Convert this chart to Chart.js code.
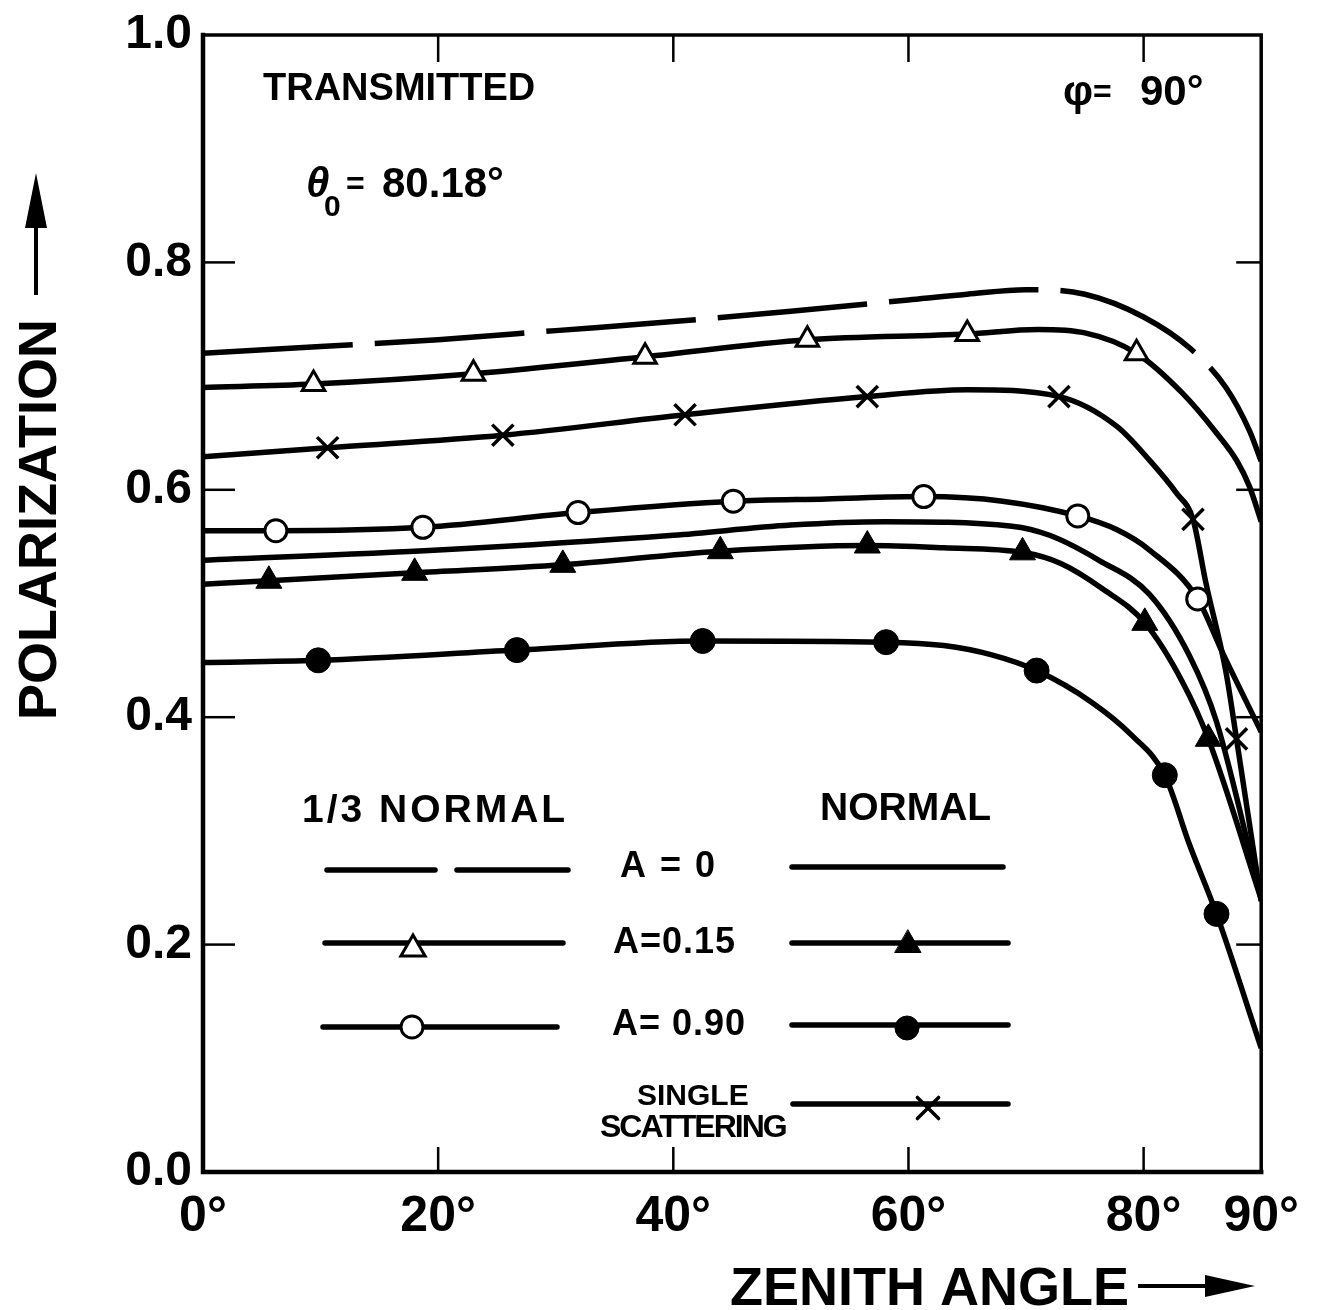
<!DOCTYPE html>
<html>
<head>
<meta charset="utf-8">
<title>Transmitted polarization vs zenith angle</title>
<script src="https://cdn.jsdelivr.net/npm/chart.js@4.4.1/dist/chart.umd.min.js"></script>
<style>
  html, body { margin: 0; padding: 0; background: #fff; }
  canvas { display: block; }
</style>
</head>
<body>
<canvas id="chart" width="1319" height="1310"></canvas>
<script>
// axis ticks
const xTicks = [0, 20, 40, 60, 80, 90];
const yTicks = [0, 0.2, 0.4, 0.6, 0.8, 1.0];

// [zenith angle (deg), polarization]

// 1/3 normal, A = 0 (dashed)
const thirdA0 = [[0,0.720],[10,0.726],[20,0.732],[30,0.740],[40,0.748],[50,0.757],[60,0.767],[65,0.772],[70,0.776],[75,0.772],[80,0.752],[84,0.724],[87,0.690],[89,0.652],[90,0.625]];

// 1/3 normal, A = 0.15 (open triangles)
const thirdA015 = [[0,0.690],[9.4,0.693],[23,0.702],[37.6,0.717],[51.4,0.732],[65,0.737],[71,0.741],[75,0.738],[79.4,0.720],[83.3,0.685],[86.2,0.650],[87.9,0.626],[89,0.603],[90,0.572]];
const thirdA015Marks = [[9.4,0.693],[23,0.702],[37.6,0.717],[51.4,0.732],[65,0.737],[79.4,0.720]];

// 1/3 normal, A = 0.90 (open circles)
const thirdA090 = [[0,0.564],[6.2,0.564],[18.7,0.567],[31.9,0.580],[45.1,0.590],[53,0.592],[61.3,0.594],[68,0.590],[74.4,0.577],[77.7,0.565],[80.5,0.547],[84.6,0.504],[86.7,0.457],[90,0.387]];
const thirdA090Marks = [[6.2,0.564],[18.7,0.567],[31.9,0.580],[45.1,0.590],[61.3,0.594],[74.4,0.577],[84.6,0.504]];

// single scattering (crosses)
const single = [[0,0.629],[10.6,0.637],[25.5,0.648],[41,0.666],[56.5,0.682],[65,0.688],[72.8,0.682],[77.7,0.656],[80.5,0.626],[82.8,0.597],[84.2,0.574],[85.3,0.518],[87,0.440],[87.9,0.381],[90,0.238]];
const singleMarks = [[10.6,0.637],[25.5,0.648],[41,0.666],[56.5,0.682],[72.8,0.682],[84.2,0.574],[87.9,0.381]];

// normal, A = 0 (solid)
const normA0 = [[0,0.538],[20,0.547],[40,0.560],[50,0.569],[58,0.572],[68.8,0.568],[72,0.560],[76.2,0.538],[80.5,0.508],[83.9,0.454],[86.2,0.396],[90,0.240]];

// normal, A = 0.15 (filled triangles)
const normA015 = [[0,0.517],[5.6,0.520],[18,0.527],[30.6,0.534],[44,0.546],[56.5,0.551],[63,0.549],[69.7,0.545],[73,0.535],[76.5,0.513],[80.1,0.483],[83.3,0.431],[85.5,0.381],[90,0.240]];
const normA015Marks = [[5.6,0.520],[18,0.527],[30.6,0.534],[44,0.546],[56.5,0.551],[69.7,0.545],[80.1,0.483],[85.5,0.381]];

// normal, A = 0.90 (filled circles)
const normA090 = [[0,0.448],[9.8,0.450],[26.7,0.459],[42.5,0.467],[58.1,0.466],[63,0.463],[67,0.455],[70.9,0.441],[75.6,0.413],[79,0.384],[81.8,0.349],[83.9,0.288],[86.2,0.227],[90,0.109]];
const normA090Marks = [[9.8,0.450],[26.7,0.459],[42.5,0.467],[58.1,0.466],[70.9,0.441],[81.8,0.349],[86.2,0.227]];

const FONT = '"Liberation Sans", Arial, sans-serif';
const LINE_W = 5.5;

const pts = arr => arr.map(([x, y]) => ({ x, y }));

function curve(data, dash) {
  return {
    data: pts(data),
    borderColor: '#000',
    borderWidth: LINE_W,
    borderDash: dash || [],
    pointRadius: 0,
    cubicInterpolationMode: 'monotone',
    order: 2
  };
}

function marks(data, style, radius, fill, bw) {
  return {
    data: pts(data),
    showLine: false,
    pointStyle: style,
    pointRadius: radius,
    pointBackgroundColor: fill,
    pointBorderColor: '#000',
    pointBorderWidth: bw,
    order: 1
  };
}

function drawText(ctx, str, x, y, size, opts = {}) {
  ctx.font = (opts.style || 'bold') + ' ' + size + 'px ' + FONT;
  ctx.letterSpacing = (opts.spacing || 0) + 'px';
  ctx.textAlign = opts.align || 'left';
  ctx.textBaseline = 'alphabetic';
  ctx.fillText(str, x, y);
  ctx.letterSpacing = '0px';
}

function seg(ctx, x1, y1, x2, y2) {
  ctx.beginPath();
  ctx.moveTo(x1, y1);
  ctx.lineTo(x2, y2);
  ctx.stroke();
}

function mark(ctx, style, radius, fill, bw, x, y) {
  ctx.save();
  ctx.fillStyle = fill || '#000';
  ctx.strokeStyle = '#000';
  ctx.lineWidth = bw;
  Chart.helpers.drawPoint(ctx, { pointStyle: style, radius: radius, rotation: 0, borderWidth: bw }, x, y);
  ctx.restore();
}

// frame, inward ticks, titles, notes and the hand drawn legend
const framePlugin = {
  id: 'frame',
  afterDatasetsDraw(chart) {
    const { ctx, chartArea: a, scales: { x, y } } = chart;
    ctx.save();
    ctx.strokeStyle = '#000';
    ctx.lineCap = 'square';
    ctx.lineWidth = 4.5;
    ctx.beginPath();
    ctx.moveTo(a.left, a.top);
    ctx.lineTo(a.left, a.bottom);
    ctx.lineTo(a.right, a.bottom);
    ctx.stroke();
    ctx.lineWidth = 3.5;
    ctx.beginPath();
    ctx.moveTo(a.left, a.top);
    ctx.lineTo(a.right, a.top);
    ctx.lineTo(a.right, a.bottom);
    ctx.stroke();

    ctx.lineCap = 'butt';
    ctx.lineWidth = 2.5;
    xTicks.slice(1, -1).forEach(v => {
      const px = x.getPixelForValue(v);
      seg(ctx, px, a.bottom, px, a.bottom - 25);
      seg(ctx, px, a.top, px, a.top + 27);
    });
    yTicks.slice(1, -1).forEach(v => {
      const py = y.getPixelForValue(v);
      seg(ctx, a.left, py, a.left + 32, py);
      seg(ctx, a.right, py, a.right - 25, py);
    });
    ctx.restore();
  },
  afterDraw(chart) {
    const ctx = chart.ctx;
    ctx.save();
    ctx.fillStyle = '#000';
    ctx.strokeStyle = '#000';

    // y title with arrow
    ctx.save();
    ctx.translate(56, 720);
    ctx.rotate(-Math.PI / 2);
    drawText(ctx, 'POLARIZATION', 0, 0, 54);
    ctx.restore();
    ctx.lineWidth = 4;
    seg(ctx, 36, 295, 36, 215);
    ctx.beginPath();
    ctx.moveTo(36, 173);
    ctx.lineTo(47, 228);
    ctx.lineTo(25, 228);
    ctx.closePath();
    ctx.fill();

    // x title with arrow
    drawText(ctx, 'ZENITH ANGLE', 730, 1305, 54);
    ctx.lineWidth = 4;
    seg(ctx, 1138, 1286, 1215, 1286);
    ctx.beginPath();
    ctx.moveTo(1255, 1286);
    ctx.lineTo(1205, 1275);
    ctx.lineTo(1205, 1297);
    ctx.closePath();
    ctx.fill();

    // notes
    drawText(ctx, 'TRANSMITTED', 263, 100, 38);
    drawText(ctx, 'θ', 306, 197, 42, { style: 'italic bold' });
    drawText(ctx, '0', 324, 216, 30);
    drawText(ctx, '=', 346, 194, 32);
    drawText(ctx, '80.18°', 382, 197, 42);
    drawText(ctx, 'φ', 1063, 105, 42);
    drawText(ctx, '=', 1093, 102, 32);
    drawText(ctx, '90°', 1140, 105, 42);

    // legend
    drawText(ctx, '1/3 NORMAL', 302, 822, 39, { spacing: 3 });
    drawText(ctx, 'NORMAL', 820, 820, 39);
    drawText(ctx, 'A = 0', 620, 877, 36, { spacing: 2 });
    drawText(ctx, 'A=0.15', 613, 953, 36, { spacing: 1 });
    drawText(ctx, 'A= 0.90', 612, 1035, 36, { spacing: 1 });
    drawText(ctx, 'SINGLE', 637, 1105, 30);
    drawText(ctx, 'SCATTERING', 600, 1137, 32, { spacing: -2 });

    ctx.lineWidth = LINE_W;
    ctx.lineCap = 'round';
    seg(ctx, 327, 870, 435, 870);
    seg(ctx, 457, 870, 568, 870);
    seg(ctx, 325, 943, 563, 943);
    seg(ctx, 323, 1027, 557, 1027);
    seg(ctx, 792, 867, 1003, 867);
    seg(ctx, 792, 943, 1008, 943);
    seg(ctx, 792, 1025, 1008, 1025);
    seg(ctx, 793, 1104, 1008, 1104);
    mark(ctx, 'triangle', 14, '#fff', 3, 413, 949);
    mark(ctx, 'circle', 11, '#fff', 3, 412, 1027);
    mark(ctx, 'triangle', 15, '#000', 1, 908, 945);
    mark(ctx, 'circle', 12, '#000', 1, 907, 1028);
    mark(ctx, 'crossRot', 15, null, 3.5, 928, 1108);
    ctx.restore();
  }
};

new Chart(document.getElementById('chart'), {
  type: 'line',
  data: {
    datasets: [
      curve(thirdA0, [150, 22]),
      curve(thirdA015),
      curve(thirdA090),
      curve(single),
      curve(normA0),
      curve(normA015),
      curve(normA090),
      marks(thirdA015Marks, 'triangle', 13, '#fff', 3),
      marks(thirdA090Marks, 'circle', 11, '#fff', 3),
      marks(singleMarks, 'crossRot', 15, '#000', 3.5),
      marks(normA015Marks, 'triangle', 15, '#000', 1),
      marks(normA090Marks, 'circle', 12.5, '#000', 1)
    ]
  },
  options: {
    responsive: false,
    animation: false,
    events: [],
    layout: { padding: { left: 0, right: 52, top: 30, bottom: 0 } },
    plugins: {
      legend: { display: false },
      tooltip: { enabled: false }
    },
    scales: {
      x: {
        type: 'linear',
        min: 0,
        max: 90,
        afterBuildTicks: s => { s.ticks = xTicks.map(v => ({ value: v })); },
        afterFit: s => { s.height = 138; },
        grid: { display: false, drawTicks: false },
        border: { display: false },
        ticks: {
          padding: 20,
          color: '#000',
          autoSkip: false,
          maxRotation: 0,
          font: { family: FONT, size: 50, weight: 'bold', lineHeight: 1 },
          callback: v => v + '°'
        }
      },
      y: {
        type: 'linear',
        min: 0,
        max: 1,
        afterBuildTicks: s => { s.ticks = yTicks.map(v => ({ value: v })); },
        afterFit: s => { s.width = 203; },
        grid: { display: false, drawTicks: false },
        border: { display: false },
        ticks: {
          padding: 11,
          color: '#000',
          font: { family: FONT, size: 48, weight: 'bold', lineHeight: 1 },
          callback: v => v.toFixed(1)
        }
      }
    }
  },
  plugins: [framePlugin]
});
</script>
</body>
</html>
